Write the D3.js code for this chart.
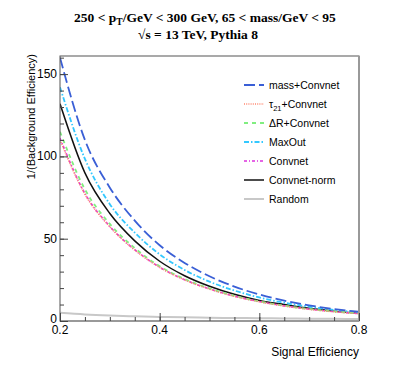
<!DOCTYPE html>
<html>
<head>
<meta charset="utf-8">
<script src="https://cdn.jsdelivr.net/npm/d3@7"></script>
<style>
  body { margin: 0; background: #fff; }
  text { font-family: "Liberation Sans", Arial, sans-serif; }
</style>
</head>
<body>
<div id="chart"></div>
<script>
// signal efficiency sample points
const sigEff = [0.2, 0.25, 0.3, 0.35, 0.4, 0.45, 0.5, 0.55, 0.6, 0.65, 0.7, 0.75, 0.8];

// 1/(background efficiency)
const massConvnet = [160, 110, 81, 61, 46, 35.3, 27.2, 20.9, 16.1, 12.4, 9.5, 7.3, 5.6];
const tauConvnet  = [110, 77, 57.2, 43.1, 32.6, 25.0, 19.4, 15.0, 11.7, 9.1, 7.1, 5.6, 4.5];
const dRConvnet   = [115, 80, 59, 44.3, 33.3, 25.5, 19.8, 15.3, 11.9, 9.3, 7.3, 5.8, 4.6];
const maxOut      = [142, 98.5, 71, 53.7, 40.5, 31, 23.9, 18.5, 14.3, 11.1, 8.7, 6.75, 5.2];
const convnet     = [111, 77.5, 57.5, 43.3, 32.7, 25.1, 19.5, 15.1, 11.8, 9.2, 7.2, 5.7, 4.5];
const convnetNorm = [132, 90, 65.3, 48.7, 36.3, 27.5, 21.1, 16.2, 12.5, 10.0, 7.7, 6.0, 4.7];
const randomTag   = [5, 4, 3.33, 2.86, 2.5, 2.22, 2, 1.82, 1.67, 1.54, 1.43, 1.33, 1.25];

const xTicks = [0.2, 0.4, 0.6, 0.8];
const yTicks = [0, 50, 100, 150];

const series = [
    { name: "mass+Convnet", values: massConvnet, color: "#3a5fd6", dash: "11,4", w: 1.8 },
    { name: "tau21+Convnet", values: tauConvnet, color: "#ff8870", dash: "1,1.2", w: 1.6 },
    { name: "dR+Convnet", values: dRConvnet, color: "#80ee80", dash: "4,4", w: 1.8 },
    { name: "MaxOut", values: maxOut, color: "#33c8ff", dash: "5,2,1.5,2", w: 1.8 },
    { name: "Convnet", values: convnet, color: "#dd33dd", dash: "3,2,1,2", w: 1.6 },
    { name: "Convnet-norm", values: convnetNorm, color: "#111", dash: null, w: 1.5 },
    { name: "Random", values: randomTag, color: "#c8c8c8", dash: null, w: 2 }
];

const width = 399, height = 379;
const margin = { top: 56, right: 40, bottom: 58, left: 60 };

const svg = d3.select("#chart").append("svg")
    .attr("width", width)
    .attr("height", height);

const x = d3.scaleLinear().domain([0.2, 0.8]).range([margin.left, width - margin.right]);
const y = d3.scaleLinear().domain([0, 161]).range([height - margin.bottom, margin.top]);

// curves (clip to frame)
svg.append("defs").append("clipPath").attr("id", "clip")
    .append("rect")
    .attr("x", x(0.2)).attr("y", y(161))
    .attr("width", x(0.8) - x(0.2)).attr("height", y(0) - y(161));

const line = d3.line()
    .x((d, i) => x(sigEff[i]))
    .y(d => y(d))
    .curve(d3.curveMonotoneX);

// draw in reverse so blue ends on top like ROOT
svg.append("g").attr("clip-path", "url(#clip)")
    .selectAll("path")
    .data(series.slice().reverse())
    .enter()
    .append("path")
    .attr("d", d => line(d.values))
    .attr("fill", "none")
    .attr("stroke", d => d.color)
    .attr("stroke-width", d => d.w)
    .attr("stroke-dasharray", d => d.dash);

// frame
svg.append("rect")
    .attr("x", x(0.2)).attr("y", y(161))
    .attr("width", x(0.8) - x(0.2)).attr("height", y(0) - y(161))
    .attr("fill", "none")
    .attr("stroke", "#555")
    .attr("stroke-width", 1);
svg.append("line")
    .attr("x1", x(0.8)).attr("x2", x(0.8))
    .attr("y1", y(161)).attr("y2", y(0))
    .attr("stroke", "#999").attr("stroke-width", 2);
svg.append("line")
    .attr("x1", x(0.2)).attr("x2", x(0.8))
    .attr("y1", y(0)).attr("y2", y(0))
    .attr("stroke", "#999").attr("stroke-width", 2);

// x axis: ticks pointing up, inside
const xAxis = d3.axisTop(x).tickValues(xTicks).tickSize(8).tickFormat("");
const xMinor = d3.axisTop(x).tickValues(d3.range(0.25, 0.8, 0.05)).tickSize(4).tickFormat("");
svg.append("g").attr("transform", `translate(0,${y(0)})`).call(xAxis)
    .call(g => g.select(".domain").remove());
svg.append("g").attr("transform", `translate(0,${y(0)})`).call(xMinor)
    .call(g => g.select(".domain").remove());

svg.selectAll(".xlab")
    .data(xTicks)
    .enter()
    .append("text")
    .attr("x", d => x(d))
    .attr("y", y(0) + 13)
    .attr("text-anchor", "middle")
    .style("font-size", "12px")
    .text(d => d.toFixed(1));

// y axis: ticks pointing right
const yAxis = d3.axisRight(y).tickValues(yTicks).tickSize(8).tickFormat("");
const yMinor = d3.axisRight(y).tickValues(d3.range(10, 161, 10)).tickSize(4).tickFormat("");
svg.append("g").attr("transform", `translate(${x(0.2)},0)`).call(yAxis)
    .call(g => g.select(".domain").remove());
svg.append("g").attr("transform", `translate(${x(0.2)},0)`).call(yMinor)
    .call(g => g.select(".domain").remove());
svg.selectAll(".tick line").attr("stroke", "#444");

svg.selectAll(".ylab")
    .data(yTicks)
    .enter()
    .append("text")
    .attr("x", x(0.2) - 3)
    .attr("y", d => y(d) + (d === 0 ? 2 : 4))
    .attr("text-anchor", "end")
    .style("font-size", "12px")
    .text(d => d);

// axis titles
svg.append("text")
    .attr("x", x(0.8))
    .attr("y", 356)
    .attr("text-anchor", "end")
    .style("font-size", "12px")
    .text("Signal Efficiency");

svg.append("text")
    .attr("transform", `translate(35,${y(161) - 2}) rotate(-90)`)
    .attr("text-anchor", "end")
    .style("font-size", "11px")
    .text("1/(Background Efficiency)");

// title
const title = svg.append("g")
    .style("font-weight", "bold").style("font-size", "13.5px");
const t1 = title.append("text").attr("x", 205).attr("y", 22).attr("text-anchor", "middle")
    .style("font-family", "'Liberation Serif', serif");
t1.append("tspan").text("250 < p");
t1.append("tspan").attr("dy", 3).style("font-size", "9.5px").text("T");
t1.append("tspan").attr("dy", -3).text("/GeV < 300 GeV, 65 < mass/GeV < 95");
title.append("text").attr("x", 198).attr("y", 39).attr("text-anchor", "middle")
    .style("font-family", "'Liberation Serif', serif")
    .text("\u221As = 13 TeV, Pythia 8");

// legend
const legendLabels = ["mass+Convnet", null, "\u0394R+Convnet", "MaxOut", "Convnet", "Convnet-norm", "Random"];
const legend = svg.append("g");
const rowY = d3.scaleLinear().domain([0, 6]).range([85, 199]);
series.forEach((s, i) => {
    legend.append("line")
        .attr("x1", 244).attr("x2", 264)
        .attr("y1", rowY(i)).attr("y2", rowY(i))
        .attr("stroke", s.color)
        .attr("stroke-width", s.w)
        .attr("stroke-dasharray", s.dash);
    const t = legend.append("text")
        .attr("x", 269).attr("y", rowY(i) + 4)
        .style("font-size", "10.5px");
    if (i === 1) {
        t.append("tspan").text("\u03C4");
        t.append("tspan").attr("dy", 3).style("font-size", "7.5px").text("21");
        t.append("tspan").attr("dy", -3).text("+Convnet");
    } else {
        t.text(legendLabels[i]);
    }
});
</script>
</body>
</html>
